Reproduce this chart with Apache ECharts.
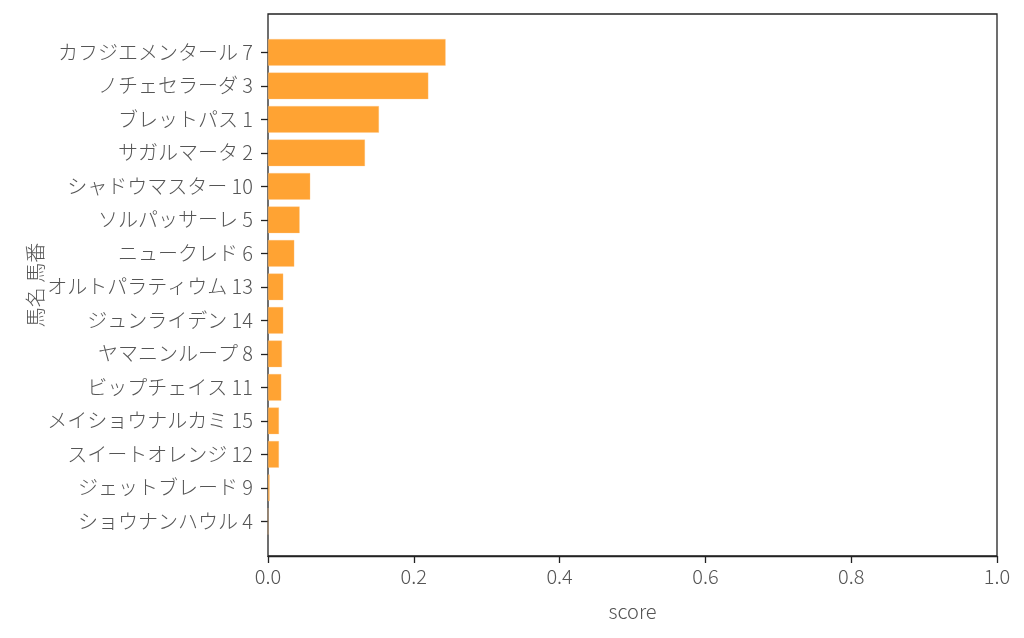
<!DOCTYPE html>
<html>
<head>
<meta charset="utf-8">
<script src="https://cdn.jsdelivr.net/npm/echarts@6/dist/echarts.min.js"></script>
<style>
html,body{margin:0;padding:0;background:#fff;}
#chart{width:1024px;height:638px;}
</style>
</head>
<body>
<div id="chart"></div>
<script>
const categories = [
  'カフジエメンタール 7','ノチェセラーダ 3','ブレットパス 1','サガルマータ 2',
  'シャドウマスター 10','ソルパッサーレ 5','ニュークレド 6','オルトパラティウム 13',
  'ジュンライデン 14','ヤマニンループ 8','ビップチェイス 11','メイショウナルカミ 15',
  'スイートオレンジ 12','ジェットブレード 9','ショウナンハウル 4'
];
const scores = [0.2437,0.220,0.1523,0.1331,0.058,0.0435,0.0361,0.021,0.021,0.0192,0.0183,0.0151,0.0151,0.0023,0.0002];
const xTicks = ['0.0','0.2','0.4','0.6','0.8','1.0'];

const FONT = '"Noto Sans CJK JP", "Noto Sans", sans-serif';
const TXT = '#555555';
const AX = '#222222';
const FS = 20;

const chart = echarts.init(document.getElementById('chart'));
chart.setOption({
  animation: false,
  backgroundColor: '#ffffff',
  textStyle: {fontFamily: FONT},
  grid: [
    {left: 268, right: 27, top: 14, bottom: 82, show: true, borderColor: AX, borderWidth: 1.3, backgroundColor: 'transparent'},
    {left: 268, right: 27, top: 35.6, bottom: 99.9}
  ],
  xAxis: [
    {
      gridIndex: 0, type: 'value', min: 0, max: 1, interval: 0.2,
      name: 'score', nameLocation: 'middle', nameGap: 45,
      nameTextStyle: {color: TXT, fontSize: FS, fontWeight: 300, fontFamily: FONT},
      axisLine: {show: true, lineStyle: {color: AX, width: 1.3}},
      axisTick: {show: true, length: 7, lineStyle: {color: AX, width: 1.3}},
      axisLabel: {color: TXT, fontSize: FS, fontWeight: 300, margin: 10, fontFamily: FONT,
        formatter: (v) => xTicks[Math.round(v / 0.2)]},
      splitLine: {show: false}
    },
    {
      gridIndex: 1, type: 'value', min: 0, max: 1, show: false
    }
  ],
  yAxis: [
    {
      gridIndex: 0, type: 'value', min: 0, max: 1, show: true,
      name: '馬名 馬番', nameLocation: 'middle', nameGap: 223, nameRotate: 90,
      nameTextStyle: {color: TXT, fontSize: FS, fontWeight: 300, fontFamily: FONT},
      axisLine: {show: false}, axisTick: {show: false}, axisLabel: {show: false}, splitLine: {show: false}
    },
    {
      gridIndex: 1, type: 'category', data: categories, inverse: true,
      axisLine: {show: false},
      axisTick: {show: true, alignWithLabel: true, length: 7, lineStyle: {color: AX, width: 1.3}},
      axisLabel: {color: TXT, fontSize: FS, fontWeight: 300, margin: 15, fontFamily: FONT},
      splitLine: {show: false}
    }
  ],
  series: [{
    type: 'bar', xAxisIndex: 1, yAxisIndex: 1,
    data: scores, barWidth: '80%',
    itemStyle: {color: '#FFA333', borderColor: 'rgba(255,200,140,0.6)', borderWidth: 0.5}
  }]
});
</script>
</body>
</html>
